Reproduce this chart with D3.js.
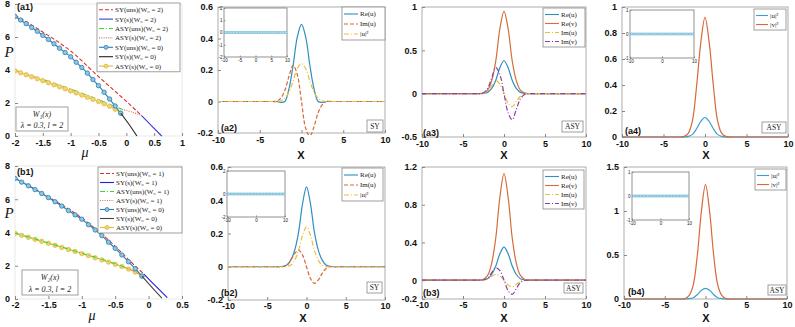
<!DOCTYPE html>
<html><head><meta charset="utf-8">
<script src="https://cdn.jsdelivr.net/npm/d3@7"></script>
<style>
body{margin:0;background:#fff}
svg{display:block}
.tk text{font:bold 9px "Liberation Sans",Arial,sans-serif;fill:#111}
.tki text{font:4.5px "Liberation Sans",Arial,sans-serif;fill:#222}
.lg{font:7px "Liberation Serif","DejaVu Serif",serif;fill:#222}
.tag{font:bold 9px "Liberation Sans",Arial,sans-serif;fill:#111}
</style></head><body><div id="container"></div>
<script>
var width = 795, height = 327;
var svg = d3.select("#container").append("svg")
  .attr("width", width).attr("height", height);
svg.append("rect").attr("width", width).attr("height", height).attr("fill", "#fff");

// ---- P(mu) curves, [mu, P] ----
var a1SYunsW2 = [[-2,7.32],[-1.5,6.3],[-1,5.15],[-0.5,3.6],[0,2.1],[0.27,1.25]];
var a1SYsW2 = [[0.27,1.25],[0.45,0.63],[0.635,0]];
var a1ASYunsW2 = [[-2,3.97],[-1.5,3.42],[-1,2.84],[-0.5,2.2],[-0.08,1.62]];
var a1ASYsW2 = [[-0.08,1.62],[0.1,1.45],[0.27,1.25]];
var SYunsW0 = [[-2,7.25],[-1.9,7.03],[-1.8,6.81],[-1.7,6.58],[-1.6,6.35],[-1.5,6.1],[-1.4,5.85],[-1.3,5.59],[-1.2,5.32],[-1.1,5.06],[-1,4.8],[-0.9,4.47],[-0.8,4.15],[-0.7,3.81],[-0.6,3.42],[-0.5,3.05],[-0.4,2.65],[-0.3,2.24],[-0.2,1.82],[-0.1,1.38]];
var ASYsW0 = [[-2,3.95],[-1.9,3.83],[-1.8,3.71],[-1.7,3.59],[-1.6,3.47],[-1.5,3.35],[-1.4,3.23],[-1.3,3.1],[-1.2,2.98],[-1.1,2.86],[-1,2.73],[-0.9,2.61],[-0.8,2.48],[-0.7,2.35],[-0.6,2.22],[-0.5,2.09],[-0.4,1.95],[-0.3,1.8],[-0.2,1.62],[-0.1,1.38]];
var SYsW0a = [[-0.1,1.38],[0.05,0.7],[0.19,0]];
var b1SYunsW1 = [[-2,7.28],[-1.5,6.14],[-1,4.87],[-0.5,3.17],[-0.3,2.37],[-0.07,1.5]];
var b1SYsW1 = [[-0.07,1.5],[0.1,0.8],[0.28,0.08]];
var b1ASYunsW1 = [[-2,3.97],[-1.5,3.37],[-1,2.76],[-0.5,2.12],[-0.35,1.9]];
var b1ASYsW1 = [[-0.35,1.9],[-0.2,1.65],[-0.08,1.36]];
var SYsW0b = [[-0.1,1.38],[0.05,0.7],[0.2,0.05]];

// ---- profiles ----
var xs = [-10,-4,-3.5,-3,-2.5,-2,-1.5,-1,-0.5,0,0.5,1,1.5,2,2.5,3,3.5,4,10];
var a2ReU = [0,0,0,0,-0.005,0,0.08,0.23,0.41,0.49,0.41,0.23,0.08,0,-0.005,0,0,0,0];
var a2ImU = [0,0,0,0,0.02,0.07,0.16,0.23,0.17,0,-0.17,-0.22,-0.16,-0.07,-0.02,0,0,0,0];
var a2AbsU = [0,0,0,0,0.005,0.02,0.06,0.13,0.21,0.24,0.21,0.13,0.06,0.02,0.005,0,0,0,0];
var b2ReU = [0,0,0,0.003,0.01,0.04,0.1,0.21,0.38,0.48,0.38,0.21,0.1,0.04,0.01,0.003,0,0,0];
var b2ImU = [0,0,0,0,0.01,0.04,0.08,0.1,0.07,0,-0.07,-0.1,-0.08,-0.04,-0.01,0,0,0,0];
var b2AbsU = [0,0,0,0,0.002,0.01,0.04,0.1,0.19,0.24,0.19,0.1,0.04,0.01,0.002,0,0,0,0];
var a3ReU = [0,0,0,0,0.004,0.015,0.06,0.155,0.3,0.38,0.3,0.155,0.06,0.015,0.004,0,0,0,0];
var a3ReV = [0,0,0,0,0.01,0.04,0.15,0.38,0.75,0.95,0.75,0.38,0.15,0.04,0.01,0,0,0,0];
var a3ImU = [0,0,0,0,0.005,0.03,0.09,0.15,0.11,0,-0.11,-0.15,-0.09,-0.03,-0.005,0,0,0,0];
var a3ImV = [0,0,0,0,0.01,0.06,0.18,0.3,0.22,0,-0.22,-0.3,-0.18,-0.06,-0.01,0,0,0,0];
var b3ReU = [0,0,0,0,0.004,0.015,0.06,0.15,0.28,0.35,0.28,0.15,0.06,0.015,0.004,0,0,0,0];
var b3ReV = [0,0,0,0,0.01,0.05,0.18,0.45,0.88,1.13,0.88,0.45,0.18,0.05,0.01,0,0,0,0];
var b3ImU = [0,0,0,0,0.002,0.01,0.04,0.06,0.045,0,-0.05,-0.07,-0.045,-0.012,-0.002,0,0,0,0];
var b3ImV = [0,0,0,0,0.004,0.02,0.08,0.13,0.1,0,-0.11,-0.15,-0.09,-0.025,-0.004,0,0,0,0];
var a4AbsU = [0,0,0,0,0,0.005,0.02,0.065,0.12,0.15,0.12,0.065,0.02,0.005,0,0,0,0,0];
var a4AbsV = [0,0,0,0,0.005,0.03,0.13,0.4,0.73,0.92,0.73,0.4,0.13,0.03,0.005,0,0,0,0];
var b4AbsU = [0,0,0,0,0,0.005,0.015,0.05,0.1,0.12,0.1,0.05,0.015,0.005,0,0,0,0,0];
var b4AbsV = [0,0,0,0,0.005,0.04,0.16,0.5,1.0,1.3,1.0,0.5,0.16,0.04,0.005,0,0,0,0];

// inset eigenvalue points (imag parts all read as 0)
var insetX = [-10,-9.5,-9,-8.5,-8,-7.5,-7,-6.5,-6,-5.5,-5,-4.5,-4,-3.5,-3,-2.5,-2,-1.5,-1,-0.5,0,0.5,1,1.5,2,2.5,3,3.5,4,4.5,5,5.5,6,6.5,7,7.5,8,8.5,9,9.5,10];

var col = {red:"#e0302a", sy2:"#3b3bd6", green:"#33dd33", brown:"#c8794a", blue:"#2a7fb0",
  black:"#222", yellow:"#e6b93a", re:"#2f8fc0", im:"#d9683a", abs:"#e9bf3c", rev:"#d36f3b", imv:"#8e3fa6"};
var dash = {solid:null, dashed:"4,2", dashdot:"5,2,1,2", dotted:"1,1.3"};
var clipN = 0;

function panel(p){
  var g = svg.append("g");
  var x = d3.scaleLinear().domain(p.xd).range([p.l, p.r]);
  var y = d3.scaleLinear().domain(p.yd).range([p.b, p.t]);
  g.append("rect").attr("x",p.l).attr("y",p.t).attr("width",p.r-p.l).attr("height",p.b-p.t)
    .attr("fill","#fff").attr("stroke",p.frame||"#9a9a9a").attr("stroke-width",0.8);
  var xa = g.append("g").attr("class",p.cls||"tk").attr("transform","translate(0,"+p.b+")")
    .call(d3.axisBottom(x).tickValues(p.xt).tickSize(-(p.ts||3)).tickPadding(p.xp||p.tp||4).tickFormat(d=>String(d)));
  var ya = g.append("g").attr("class",p.cls||"tk").attr("transform","translate("+p.l+",0)")
    .call(d3.axisLeft(y).tickValues(p.yt).tickSize(-(p.ts||3)).tickPadding(p.tp||5).tickFormat(d=>String(d)));
  g.selectAll(".domain").remove();
  g.selectAll(".tick line").attr("stroke","#888");
  var id = "clip" + (clipN++);
  g.append("clipPath").attr("id",id).append("rect")
    .attr("x",p.l).attr("y",p.t-2).attr("width",p.r-p.l).attr("height",p.b-p.t+4);
  var plot = g.append("g").attr("clip-path","url(#"+id+")");
  return {g:g, plot:plot, x:x, y:y};
}

function pairLine(pn, data, c, d, w, marker){
  var line = d3.line().x(v=>pn.x(v[0])).y(v=>pn.y(v[1])).curve(d3.curveMonotoneX);
  pn.plot.append("path").attr("d",line(data)).attr("fill","none").attr("stroke",c)
    .attr("stroke-width",w||1.1).attr("stroke-dasharray",dash[d]);
  if(marker){
    pn.plot.selectAll(null).data(data).enter().append("circle")
      .attr("cx",v=>pn.x(v[0])).attr("cy",v=>pn.y(v[1])).attr("r",2.2)
      .attr("fill",marker).attr("stroke",c).attr("stroke-width",0.8);
  }
}

function profLine(pn, ys, c, d){
  var line = d3.line().x((v,i)=>pn.x(xs[i])).y(v=>pn.y(v)).curve(d3.curveCatmullRom);
  pn.plot.append("path").attr("d",line(ys)).attr("fill","none").attr("stroke",c)
    .attr("stroke-width",1.2).attr("stroke-dasharray",dash[d]);
}

function legend(x0, y0, w, rowH, items, sw){
  var g = svg.append("g");
  g.append("rect").attr("x",x0).attr("y",y0).attr("width",w).attr("height",rowH*items.length+3)
    .attr("fill","#fff").attr("stroke","#888").attr("stroke-width",0.8);
  items.forEach(function(it,i){
    var cy = y0 + 2 + rowH*(i+0.5);
    g.append("line").attr("x1",x0+2).attr("x2",x0+2+sw).attr("y1",cy).attr("y2",cy)
      .attr("stroke",it.c).attr("stroke-width",1.1).attr("stroke-dasharray",dash[it.d]);
    if(it.m) g.append("circle").attr("cx",x0+2+sw/2).attr("cy",cy).attr("r",2)
      .attr("fill",it.m).attr("stroke",it.c).attr("stroke-width",0.8);
    g.append("text").attr("class","lg").attr("x",x0+4+sw).attr("y",cy+2.4).text(it.t);
  });
}

function tagBox(x0, y0, w, h, t){
  svg.append("rect").attr("x",x0).attr("y",y0).attr("width",w).attr("height",h)
    .attr("fill","#fff").attr("stroke","#888").attr("stroke-width",0.8);
  svg.append("text").attr("class","lg").attr("x",x0+w/2).attr("y",y0+h/2+2.5)
    .attr("text-anchor","middle").style("font-size","7.5px").text(t);
}

function label(x, y, t){
  svg.append("text").attr("class","tag").attr("x",x).attr("y",y).text(t);
}

function axisText(x, y, t, style){
  svg.append("text").attr("x",x).attr("y",y).attr("text-anchor","middle").attr("style",style).text(t);
}
var serifIt = "font:italic 15px 'Liberation Serif',serif;fill:#111";
var serifMu = "font:italic 14px 'Liberation Serif',serif;fill:#111";
var boldX = "font:bold 11px 'Liberation Sans',Arial,sans-serif;fill:#111";

function inset(p){
  p.cls = "tki"; p.ts = 1.5; p.tp = 1.5; p.frame = "#777";
  var pn = panel(p);
  pn.plot.selectAll(null).data(insetX).enter().append("circle")
    .attr("cx",v=>pn.x(v)).attr("cy",pn.y(0)).attr("r",1.1)
    .attr("fill","#d4ecf7").attr("stroke","#4aa3c8").attr("stroke-width",0.5);
}

// ===== (a1) =====
var a1 = panel({l:15,r:182,t:4,b:136,xd:[-2,1],yd:[0,8],xt:[-2,-1.5,-1,-0.5,0,0.5,1],yt:[0,2,4,6,8],frame:"#e4e4e4"});
pairLine(a1, a1SYunsW2, col.red, "dashed");
pairLine(a1, a1SYsW2, col.sy2, "solid");
pairLine(a1, a1ASYunsW2, col.green, "dashdot");
pairLine(a1, a1ASYsW2, col.brown, "dotted");
pairLine(a1, ASYsW0, col.yellow, "solid", 1.1, "#f2d27a");
pairLine(a1, SYunsW0, col.blue, "solid", 1.1, "#8fc6e6");
pairLine(a1, SYsW0a, col.black, "solid");
var a1items = [
  {t:"SY(uns)(W\u2080 = 2)", c:col.red, d:"dashed"},
  {t:"SY(s)(W\u2080 = 2)", c:col.sy2, d:"solid"},
  {t:"ASY(uns)(W\u2080 = 2)", c:col.green, d:"dashdot"},
  {t:"ASY(s)(W\u2080 = 2)", c:col.brown, d:"dotted"},
  {t:"SY(uns)(W\u2080 = 0)", c:col.blue, d:"solid", m:"#8fc6e6"},
  {t:"SY(s)(W\u2080 = 0)", c:col.black, d:"solid"},
  {t:"ASY(s)(W\u2080 = 0)", c:col.yellow, d:"solid", m:"#f2d27a"}];
legend(97, 3, 83, 9.4, a1items, 14);
svg.append("rect").attr("x",16).attr("y",107).attr("width",52).attr("height",24).attr("fill","#fff").attr("stroke","#888").attr("stroke-width",0.8);
axisText(42, 117, "W\u2081(x)", "font:italic 8px 'Liberation Serif',serif;fill:#222");
axisText(42, 128, "\u03bb = 0.3, l = 2", "font:italic 8px 'Liberation Serif',serif;fill:#222");
label(17, 10, "(a1)");
axisText(9, 57, "P", serifIt);
axisText(85, 157, "\u03bc", serifMu);

// ===== (b1) =====
var b1 = panel({l:15,r:182,t:166,b:299,xd:[-2,0.5],yd:[0,8],xt:[-2,-1.5,-1,-0.5,0,0.5],yt:[0,2,4,6,8],frame:"#e4e4e4",xp:3});
pairLine(b1, b1SYunsW1, col.red, "dashed");
pairLine(b1, b1SYsW1, "#2020e0", "solid");
pairLine(b1, ASYsW0, col.yellow, "solid", 1.1, "#f2d27a");
pairLine(b1, b1ASYunsW1, col.green, "dashdot");
pairLine(b1, b1ASYsW1, col.brown, "dotted");
pairLine(b1, SYunsW0, col.blue, "solid", 1.1, "#8fc6e6");
pairLine(b1, SYsW0b, "#444", "solid");
var b1items = [
  {t:"SY(uns)(W\u2080 = 1)", c:col.red, d:"dashed"},
  {t:"SY(s)(W\u2080 = 1)", c:"#2020e0", d:"solid"},
  {t:"ASY(uns)(W\u2080 = 1)", c:col.green, d:"dashdot"},
  {t:"ASY(s)(W\u2080 = 1)", c:col.brown, d:"dotted"},
  {t:"SY(uns)(W\u2080 = 0)", c:col.blue, d:"solid", m:"#8fc6e6"},
  {t:"SY(s)(W\u2080 = 0)", c:"#444", d:"solid"},
  {t:"ASY(s)(W\u2080 = 0)", c:col.yellow, d:"solid", m:"#f2d27a"}];
legend(98, 167, 84, 9, b1items, 14);
svg.append("rect").attr("x",22).attr("y",270).attr("width",56).attr("height",25).attr("fill","#fff").attr("stroke","#888").attr("stroke-width",0.8);
axisText(50, 280, "W\u2082(x)", "font:italic 8px 'Liberation Serif',serif;fill:#222");
axisText(50, 291.5, "\u03bb = 0.3, l = 2", "font:italic 8px 'Liberation Serif',serif;fill:#222");
label(17, 175, "(b1)");
axisText(9, 218, "P", serifIt);
axisText(92, 320, "\u03bc", serifMu);

// ===== (a2) =====
var xt10 = [-10,-5,0,5,10];
var a2 = panel({l:218,r:385,t:7,b:133,xd:[-10,10],yd:[-0.2,0.6],xt:xt10,yt:[-0.2,0,0.2,0.4,0.6]});
profLine(a2, a2ReU, col.re, "solid");
profLine(a2, a2ImU, col.im, "dashed");
profLine(a2, a2AbsU, col.abs, "dashdot");
inset({l:224,r:287,t:8,b:57,xd:[-10,10],yd:[-2,2],xt:xt10,yt:[-2,-1,0,1,2]});
legend(342, 7, 43, 10, [{t:"Re(u)",c:col.re,d:"solid"},{t:"Im(u)",c:col.im,d:"dashed"},{t:"|u|\u00b2",c:col.abs,d:"dashdot"}], 14);
tagBox(367, 120, 16, 12, "SY");
label(221, 131, "(a2)");
axisText(301, 159, "X", boldX);

// ===== (b2) =====
var b2 = panel({l:228,r:385,t:167,b:300,xd:[-10,10],yd:[-0.2,0.6],xt:xt10,yt:[-0.2,0,0.2,0.4,0.6],xp:3});
profLine(b2, b2ReU, col.re, "solid");
profLine(b2, b2ImU, col.im, "dashed");
profLine(b2, b2AbsU, col.abs, "dashdot");
inset({l:227,r:285,t:171,b:217,xd:[-10,10],yd:[-2,2],xt:[-10,0,10],yt:[-2,0,2]});
legend(342, 168, 41, 10, [{t:"Re(u)",c:col.re,d:"solid"},{t:"Im(u)",c:col.im,d:"dashed"},{t:"|u|\u00b2",c:col.abs,d:"dashdot"}], 14);
tagBox(367, 282, 15, 11, "SY");
label(221, 296, "(b2)");
axisText(303, 322, "X", boldX);

// ===== (a3) =====
var uvItems = [{t:"Re(u)",c:col.re,d:"solid"},{t:"Re(v)",c:col.rev,d:"solid"},{t:"Im(u)",c:col.abs,d:"dashdot"},{t:"Im(v)",c:col.imv,d:"dashdot"}];
var a3 = panel({l:422,r:586,t:7,b:137,xd:[-10,10],yd:[-0.5,1],xt:xt10,yt:[-0.5,0,0.5,1]});
profLine(a3, a3ReU, col.re, "solid");
profLine(a3, a3ReV, col.rev, "solid");
profLine(a3, a3ImU, col.abs, "dashdot");
profLine(a3, a3ImV, col.imv, "dashdot");
legend(543, 8, 42, 9, uvItems, 14);
tagBox(562, 121, 21, 11, "ASY");
label(423, 136, "(a3)");
axisText(504, 159, "X", boldX);

// ===== (b3) =====
var b3 = panel({l:422,r:586,t:167,b:299,xd:[-10,10],yd:[-0.2,1.2],xt:xt10,yt:[-0.2,0,0.4,0.8,1.2],xp:3});
profLine(b3, b3ReU, col.re, "solid");
profLine(b3, b3ReV, col.rev, "solid");
profLine(b3, b3ImU, col.abs, "dashdot");
profLine(b3, b3ImV, col.imv, "dashdot");
legend(543, 170, 41, 9, uvItems, 14);
tagBox(564, 283, 19, 10, "ASY");
label(423, 296, "(b3)");
axisText(504, 322, "X", boldX);

// ===== (a4) =====
var absItems = [{t:"|u|\u00b2",c:"#3aa0cf",d:"solid"},{t:"|v|\u00b2",c:col.im,d:"solid"}];
var a4 = panel({l:622,r:788,t:7,b:137,xd:[-10,10],yd:[0,1],xt:xt10,yt:[0,0.2,0.4,0.6,0.8,1]});
profLine(a4, a4AbsU, "#3aa0cf", "solid");
profLine(a4, a4AbsV, col.im, "solid");
inset({l:630,r:694,t:10,b:58,xd:[-10,10],yd:[-1,1],xt:[-10,0,10],yt:[-1,0,1]});
legend(754, 9, 32, 9, absItems, 12);
tagBox(762, 122, 24, 11, "ASY");
label(625, 134, "(a4)");
axisText(706, 159, "X", boldX);

// ===== (b4) =====
var b4 = panel({l:624,r:787,t:167,b:299,xd:[-10,10],yd:[0,1.5],xt:xt10,yt:[0,0.5,1,1.5],xp:3});
profLine(b4, b4AbsU, "#3aa0cf", "solid");
profLine(b4, b4AbsV, col.im, "solid");
inset({l:632,r:689,t:172,b:220,xd:[-10,10],yd:[-1,1],xt:[-10,0,10],yt:[-1,0,1]});
legend(755, 169, 31, 9, absItems, 12);
tagBox(768, 285, 18, 10, "ASY");
label(628, 295, "(b4)");
axisText(706, 322, "X", boldX);
</script></body></html>
